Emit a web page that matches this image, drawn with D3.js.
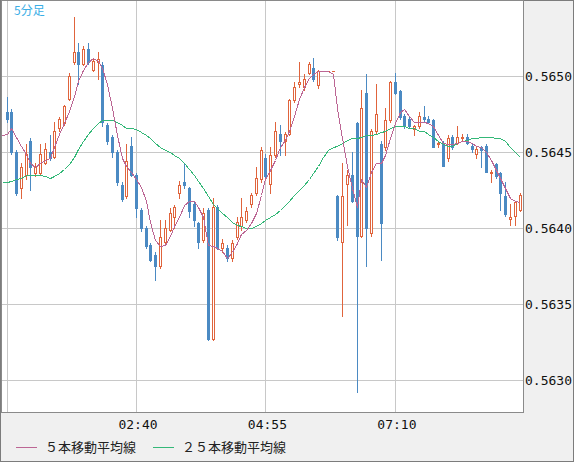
<!DOCTYPE html>
<meta charset="utf-8">
<style>

body {
  margin: 0;
}

.frame {
  fill: #f0f0f0;
  stroke: #7c7c7c;
  stroke-width: 1px;
  shape-rendering: crispEdges;
}

.plot-bg {
  fill: #fff;
  stroke: #8a8a8a;
  stroke-width: 1px;
  shape-rendering: crispEdges;
}

.grid line {
  stroke: #c8c8c8;
  stroke-width: 1px;
  shape-rendering: crispEdges;
}

.axis text {
  font: 13px "DejaVu Sans Mono", monospace;
  fill: #111;
}

.candle line,
.candle rect {
  shape-rendering: crispEdges;
}

.ma {
  fill: none;
  stroke-width: 1px;
  shape-rendering: crispEdges;
}

.legend text {
  font: 13px "Noto Sans CJK JP", sans-serif;
  fill: #222;
}

.title {
  font: 12px "Noto Sans CJK JP", sans-serif;
  fill: #3aaee6;
}

</style>
<svg width="574" height="462">
</svg>
<script src="https://d3js.org/d3.v7.min.js"></script>
<script>

// DATA (5 minute bars, first bar 00:25)
var open = [
  0.56476,0.56476,0.56450,0.56426,0.56435,0.56457,0.56436,0.56436,0.56443,0.56450,
  0.56447,0.56466,0.56469,0.56485,0.56509,0.56516,0.56508,0.56518,0.56504,0.56509,
  0.56507,0.56468,0.56460,0.56450,0.56428,0.56421,0.56454,0.56435,0.56412,0.56400,
  0.56389,0.56382,0.56375,0.56391,0.56399,0.56407,0.56423,0.56430,0.56426,0.56416,
  0.56403,0.56392,0.56412,0.56327,0.56414,0.56387,0.56387,0.56380,0.56394,0.56401,
  0.56405,0.56416,0.56423,0.56432,0.56446,0.56429,0.56448,0.56462,0.56457,0.56462,
  0.56484,0.56495,0.56493,0.56502,0.56505,0.56494,0.56503,0.56503,0.56503,0.56421,
  0.56391,0.56429,0.56435,0.56469,0.56395,0.56489,0.56397,0.56464,0.56455,0.56453,
  0.56471,0.56496,0.56490,0.56474,0.56472,0.56465,0.56467,0.56473,0.56472,0.56471,
  0.56455,0.56456,0.56446,0.56460,0.56456,0.56459,0.56460,0.56454,0.56449,0.56453,
  0.56454,0.56436,0.56442,0.56436,0.56421,0.56406,0.56408,0.56412];
var high = [
  0.56486,0.56478,0.56451,0.56443,0.56455,0.56459,0.56443,0.56455,0.56456,0.56461,
  0.56470,0.56473,0.56481,0.56502,0.56539,0.56522,0.56520,0.56522,0.56511,0.56516,
  0.56509,0.56469,0.56461,0.56451,0.56430,0.56455,0.56460,0.56436,0.56413,0.56401,
  0.56390,0.56384,0.56405,0.56405,0.56413,0.56415,0.56431,0.56443,0.56427,0.56417,
  0.56404,0.56413,0.56413,0.56420,0.56415,0.56393,0.56389,0.56392,0.56407,0.56420,
  0.56414,0.56423,0.56440,0.56453,0.56449,0.56453,0.56470,0.56468,0.56463,0.56485,
  0.56496,0.56509,0.56501,0.56509,0.56512,0.56504,0.56503,0.56503,0.56503,0.56422,
  0.56443,0.56438,0.56450,0.56470,0.56491,0.56501,0.56465,0.56495,0.56457,0.56479,
  0.56497,0.56502,0.56491,0.56475,0.56473,0.56468,0.56476,0.56480,0.56474,0.56472,
  0.56457,0.56457,0.56461,0.56461,0.56467,0.56462,0.56462,0.56455,0.56453,0.56454,
  0.56455,0.56438,0.56443,0.56437,0.56430,0.56416,0.56418,0.56423];
var low = [
  0.56470,0.56449,0.56422,0.56420,0.56432,0.56425,0.56434,0.56435,0.56442,0.56445,
  0.56446,0.56464,0.56468,0.56484,0.56508,0.56495,0.56507,0.56508,0.56503,0.56498,
  0.56467,0.56455,0.56447,0.56428,0.56418,0.56420,0.56434,0.56407,0.56398,0.56387,
  0.56378,0.56366,0.56374,0.56390,0.56398,0.56400,0.56420,0.56426,0.56407,0.56401,
  0.56387,0.56391,0.56326,0.56326,0.56386,0.56384,0.56378,0.56378,0.56393,0.56399,
  0.56404,0.56414,0.56422,0.56430,0.56432,0.56423,0.56447,0.56448,0.56448,0.56461,
  0.56483,0.56493,0.56491,0.56501,0.56497,0.56492,0.56503,0.56503,0.56503,0.56392,
  0.56342,0.56402,0.56417,0.56292,0.56394,0.56375,0.56395,0.56462,0.56379,0.56451,
  0.56470,0.56488,0.56472,0.56466,0.56466,0.56461,0.56466,0.56470,0.56470,0.56453,
  0.56453,0.56441,0.56444,0.56452,0.56455,0.56458,0.56455,0.56450,0.56446,0.56440,
  0.56437,0.56430,0.56433,0.56412,0.56408,0.56402,0.56402,0.56411];
var close = [
  0.56472,0.56450,0.56423,0.56440,0.56449,0.56440,0.56441,0.56449,0.56452,0.56446,
  0.56464,0.56472,0.56480,0.56500,0.56516,0.56508,0.56518,0.56509,0.56510,0.56511,
  0.56470,0.56457,0.56450,0.56430,0.56419,0.56444,0.56435,0.56413,0.56400,0.56388,
  0.56379,0.56375,0.56394,0.56400,0.56410,0.56414,0.56428,0.56428,0.56411,0.56405,
  0.56391,0.56410,0.56327,0.56414,0.56387,0.56390,0.56380,0.56390,0.56404,0.56407,
  0.56411,0.56422,0.56433,0.56451,0.56434,0.56448,0.56464,0.56457,0.56462,0.56484,
  0.56493,0.56496,0.56498,0.56508,0.56498,0.56503,0.56503,0.56503,0.56503,0.56394,
  0.56421,0.56435,0.56418,0.56395,0.56479,0.56400,0.56464,0.56475,0.56403,0.56471,
  0.56496,0.56489,0.56473,0.56467,0.56467,0.56467,0.56474,0.56472,0.56470,0.56453,
  0.56456,0.56441,0.56459,0.56453,0.56460,0.56460,0.56456,0.56452,0.56452,0.56451,
  0.56437,0.56437,0.56434,0.56423,0.56409,0.56407,0.56417,0.56422];

// moving averages, first value belongs to the bar before the first candle
var ma5 = [
  0.56461,
  0.56462,0.56466,0.56460,0.56454,0.56449,0.56443,0.56440,0.56443,0.56445,0.56446,
  0.56453,0.56462,0.56469,0.56477,0.56487,0.56497,0.56504,0.56509,0.56512,0.56510,
  0.56505,0.56495,0.56479,0.56461,0.56446,0.56441,0.56437,0.56432,0.56427,0.56418,
  0.56404,0.56392,0.56388,0.56389,0.56395,0.56401,0.56407,0.56415,0.56418,0.56418,
  0.56414,0.56407,0.56389,0.56388,0.56387,0.56385,0.56380,0.56384,0.56390,0.56396,
  0.56399,0.56403,0.56410,0.56422,0.56432,0.56438,0.56445,0.56453,0.56458,0.56464,
  0.56474,0.56485,0.56493,0.56499,0.56501,0.56503,0.56503,0.56503,0.56501,0.56479,
  0.56459,0.56441,0.56426,0.56414,0.56432,0.56427,0.56437,0.56443,0.56443,0.56448,
  0.56459,0.56469,0.56476,0.56478,0.56474,0.56470,0.56470,0.56470,0.56469,0.56467,
  0.56461,0.56456,0.56455,0.56455,0.56456,0.56457,0.56457,0.56456,0.56454,0.56453,
  0.56450,0.56445,0.56438,0.56433,0.56426,0.56420,0.56418,0.56417];
var ma25 = [
  0.56430,
  0.56430,0.56431,0.56432,0.56433,0.56435,0.56435,0.56435,0.56435,0.56434,0.56433,
  0.56434,0.56436,0.56439,0.56442,0.56447,0.56452,0.56457,0.56462,0.56466,0.56469,
  0.56471,0.56471,0.56471,0.56470,0.56468,0.56466,0.56466,0.56465,0.56463,0.56461,
  0.56459,0.56456,0.56453,0.56451,0.56450,0.56448,0.56446,0.56443,0.56439,0.56435,
  0.56431,0.56426,0.56421,0.56416,0.56413,0.56410,0.56407,0.56404,0.56402,0.56401,
  0.56400,0.56400,0.56401,0.56403,0.56405,0.56407,0.56409,0.56412,0.56415,0.56418,
  0.56422,0.56425,0.56428,0.56432,0.56436,0.56441,0.56447,0.56451,0.56453,0.56454,
  0.56456,0.56458,0.56459,0.56459,0.56460,0.56461,0.56461,0.56462,0.56463,0.56464,
  0.56466,0.56467,0.56467,0.56467,0.56466,0.56466,0.56464,0.56464,0.56462,0.56460,
  0.56457,0.56455,0.56454,0.56454,0.56456,0.56457,0.56458,0.56459,0.56459,0.56460,
  0.56460,0.56460,0.56459,0.56459,0.56457,0.56453,0.56450,0.56447];

var priceTicks = [0.5630, 0.5635, 0.5640, 0.5645, 0.5650];
var timeTickIdx = [27, 54, 81];
var timeLabels = ["02:40", "04:55", "07:10"];
var legendNames = ["５本移動平均線", "２５本移動平均線"];

var upcol = "#e0643c";
var downcol = "#4b8ac3";
var ma5col = "#bc6694";
var ma25col = "#34b878";


var svg = d3.select("svg"),
    width = +svg.attr("width"),
    height = +svg.attr("height"),
    plot = {left: 1, top: 0, right: 523, bottom: 412};

var x = d3.scaleLinear()
    .domain([0, 107])
    .range([7, 520.07]);

var y = d3.scaleLinear()
    .domain([0.5630, 0.5650])
    .range([380, 76]);

function px(i) { return Math.floor(x(i)); }
function py(v) { return Math.round(y(v)); }

svg.append("rect")
    .attr("class", "frame")
    .attr("x", 0.5)
    .attr("y", 0.5)
    .attr("width", width - 1)
    .attr("height", height - 1);

svg.append("rect")
    .attr("class", "plot-bg")
    .attr("x", plot.left + 0.5)
    .attr("y", plot.top + 0.5)
    .attr("width", plot.right - plot.left)
    .attr("height", plot.bottom - plot.top);

svg.append("clipPath")
    .attr("id", "clip")
  .append("rect")
    .attr("x", plot.left + 1)
    .attr("y", plot.top + 1)
    .attr("width", plot.right - plot.left - 1)
    .attr("height", plot.bottom - plot.top - 1);

// grid
var grid = svg.append("g")
    .attr("class", "grid")
    .attr("clip-path", "url(#clip)");

grid.selectAll(".h")
  .data(priceTicks)
  .enter().append("line")
    .attr("x1", plot.left)
    .attr("x2", plot.right)
    .attr("y1", function(d) { return py(d) + 0.5; })
    .attr("y2", function(d) { return py(d) + 0.5; });

grid.selectAll(".v")
  .data(d3.range(0, close.length, 27))
  .enter().append("line")
    .attr("x1", function(d) { return px(d) + 0.5; })
    .attr("x2", function(d) { return px(d) + 0.5; })
    .attr("y1", plot.top)
    .attr("y2", plot.bottom);

svg.append("text")
    .attr("class", "title")
    .attr("x", 14)
    .attr("y", 15)
    .text("5分足");

// candles
var bars = close.map(function(c, i) {
  return {i: i, o: open[i], h: high[i], l: low[i], c: c, up: c >= open[i]};
});

var candle = svg.append("g")
    .attr("class", "candle")
    .attr("clip-path", "url(#clip)")
  .selectAll("g")
  .data(bars)
  .enter().append("g");

candle.append("line")
    .attr("x1", function(d) { return px(d.i) + 0.5; })
    .attr("x2", function(d) { return px(d.i) + 0.5; })
    .attr("y1", function(d) { return py(d.h); })
    .attr("y2", function(d) { return py(d.l) + 1; })
    .style("stroke", function(d) { return d.up ? upcol : downcol; });

candle.append("rect")
    .each(function(d) {
      var top = py(Math.max(d.o, d.c)),
          bot = py(Math.min(d.o, d.c)),
          r = d3.select(this);
      if (!d.up) {
        r.attr("x", px(d.i) - 1)
         .attr("y", top)
         .attr("width", 3)
         .attr("height", Math.max(1, bot - top + 1))
         .style("fill", downcol);
      } else if (bot - top < 2) {
        r.attr("x", px(d.i) - 1)
         .attr("y", top)
         .attr("width", 3)
         .attr("height", bot - top + 1)
         .style("fill", upcol);
      } else {
        r.attr("x", px(d.i) - 0.5)
         .attr("y", top + 0.5)
         .attr("width", 2)
         .attr("height", bot - top)
         .style("fill", "#fff")
         .style("stroke", upcol);
      }
    });

// moving averages
var line = d3.line()
    .x(function(d, i) { return px(i - 1) + 0.5; })
    .y(function(d) { return py(d) + 0.5; });

var mas = svg.append("g")
    .attr("clip-path", "url(#clip)");

mas.append("path")
    .datum(ma25)
    .attr("class", "ma")
    .style("stroke", ma25col)
    .attr("d", line);

mas.append("path")
    .datum(ma5)
    .attr("class", "ma")
    .style("stroke", ma5col)
    .attr("d", line);

// axes
var yAxis = svg.append("g")
    .attr("class", "axis")
    .attr("transform", "translate(" + plot.right + ",0.5)")
    .call(d3.axisRight(y)
        .tickValues(priceTicks)
        .tickFormat(d3.format(".4f"))
        .tickSize(0)
        .tickPadding(2));
yAxis.select(".domain").remove();
yAxis.selectAll("text").attr("font-family", null).attr("font-size", null);

var xAxis = svg.append("g")
    .attr("class", "axis")
    .attr("transform", "translate(1," + plot.bottom + ")")
    .call(d3.axisBottom(x)
        .tickValues(timeTickIdx)
        .tickFormat(function(d, i) { return timeLabels[i]; })
        .tickSize(0)
        .tickPadding(8));
xAxis.select(".domain").remove();
xAxis.selectAll("text").attr("font-family", null).attr("font-size", null);

// legend
var legend = svg.append("g")
    .attr("class", "legend")
  .selectAll("g")
  .data(legendNames)
  .enter().append("g")
    .attr("transform", function(d, i) { return "translate(" + (16 + i * 137) + ",447)"; });

legend.append("line")
    .attr("x1", 0)
    .attr("x2", 21)
    .attr("y1", 0.5)
    .attr("y2", 0.5)
    .style("stroke", function(d, i) { return i ? ma25col : ma5col; })
    .style("shape-rendering", "crispEdges");

legend.append("text")
    .attr("x", 29)
    .attr("y", 5)
    .text(function(d) { return d; });

</script>
